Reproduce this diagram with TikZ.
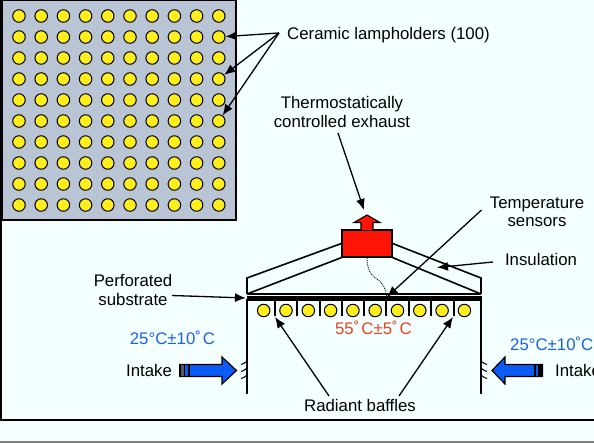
\documentclass[tikz,border=0pt]{standalone}
\usepackage{fontspec}
\setmainfont{Liberation Sans}
\usepackage{xcolor}
\usetikzlibrary{arrows.meta,positioning}
\definecolor{pagecyan}{HTML}{F4FFFF}
\definecolor{panelgray}{HTML}{B9C4D4}
\definecolor{lampyellow}{HTML}{FFEE1E}
\definecolor{hotred}{HTML}{FF1405}
\definecolor{coolblue}{HTML}{0A5CF5}
\definecolor{bluetext}{HTML}{1F5FE0}
\definecolor{redtext}{HTML}{F04020}

\begin{document}
\begin{tikzpicture}[
  x=1pt,y=-1pt,
  lbl/.style={font=\fontsize{16.8}{18.2}\selectfont,align=center,inner sep=0pt},
  lamp/.style={circle,draw=black,line width=1pt,fill=lampyellow,minimum size=12.5pt,inner sep=0pt},
  arrow/.style={-{Latex[length=11pt,width=9pt]},line width=1.3pt},
  wall/.style={line width=1.6pt},
  baffle/.style={line width=1.1pt},
  hatch/.style={line width=1pt},
  intake/.style={draw=black,line width=1.2pt,fill=coolblue}
]
\useasboundingbox (0,0) rectangle (594,443);
\fill[pagecyan] (0,0) rectangle (594,443);
\draw[line width=1.5pt] (1,0) -- (1,420) -- (594,420);
\fill[gray] (0,441) rectangle (594,443);
% lamp panel
\node[draw=black,line width=1.2pt,fill=panelgray,minimum width=234pt,minimum height=220pt,inner sep=0pt] (panel) at (119,110) {};
\foreach \col in {1,...,10}
  \foreach \row in {1,...,10}
    \node[lamp] (lamp-\col-\row) at ({19+22.2*(\col-1)},{16+21*(\row-1)}) {};
\node[lbl,anchor=west] (lampholders) at (287,35) {Ceramic lampholders (100)};
\coordinate (fan) at (279,33);
\draw[arrow] (fan) -- (lamp-10-2);
\draw[arrow] (fan) -- (lamp-10-4);
\draw[arrow] (fan) -- (lamp-10-6);
% hood
\node[draw=black,line width=1.2pt,fill=hotred,minimum width=50pt,minimum height=27pt,inner sep=0pt] (exhaust) at (367,243.5) {};
\draw[fill=hotred,line width=1.1pt] (361,230) -- (361,222.5) -- (354,222.5) -- (367,215) -- (380,222.5) -- (373,222.5) -- (373,230);
\coordinate (hoodL) at (247,278);
\coordinate (hoodR) at (481,278);
\coordinate (subL) at (247,294);
\coordinate (subR) at (481,294);
\draw[wall] (exhaust.west) -- (hoodL) -- (subL);
\draw[wall] (exhaust.east) -- (hoodR) -- (subR);
\draw[wall] (exhaust.south west) -- (subL);
\draw[wall] (exhaust.south east) -- (subR);
\draw[line width=1.1pt] (subL) -- (subR);
\fill (246.5,296.5) rectangle (481.5,301);
\coordinate (sensor) at (387,297);
\draw[wall] (247,299) -- (247,394);
\draw[wall] (481,299) -- (481,394);
\foreach \i in {1,...,10}
  \node[lamp] (bulb-\i) at ({263.7+22.3*(\i-1)},310.5) {};
\foreach \x in {275,297,320,342,364,386,409,431,454}
  \draw[baffle] (\x,301) -- (\x,316);
\draw[densely dotted,line width=.9pt] (367,258) .. controls (368,285) and (383,272) .. (sensor);
% labels
\node[lbl] (thermo) at (342,112) {Thermostatically\\controlled exhaust};
\node[lbl] (sensors) at (537,212) {Temperature\\sensors};
\node[lbl] (insulation) at (541,259.5) {Insulation};
\node[lbl] (substrate) at (133,290) {Perforated\\substrate};
\node[lbl] (baffles) at (360,405.5) {Radiant baffles};
\node[lbl,text=redtext] (hot) at (373.5,327.5) {55˚\hspace{.12em}C±5˚\hspace{.12em}C};
\node[lbl,text=bluetext] (coolL) at (172.5,338) {25°C±10˚\hspace{.12em}C};
\node[lbl,text=bluetext,anchor=west] (coolR) at (510,344) {25°C±10˚C};
\node[lbl] (intakeL) at (149,370) {Intake};
\node[lbl,anchor=west] (intakeR) at (555,370) {Intake};
\coordinate (baffleL) at (275,317);
\coordinate (baffleR) at (453,317);
\coordinate (roof) at (437,267.5);
\coordinate (outlet) at (364,210);
\coordinate (edge) at (246,298);
\draw[arrow] (338,133) -- (outlet);
\draw[arrow] (481.5,210) -- (sensor);
\draw[arrow] (493,262) -- (roof);
\draw[arrow] (172,295.5) -- (edge);
\draw[arrow] (329,396) -- (baffleL);
\draw[arrow] (399,396) -- (baffleR);
% intake arrows
\draw[intake] (180,364.5) -- (222,364.5) -- (222,357) -- (236.5,370.5) -- (222,384) -- (222,376.5) -- (180,376.5) -- cycle;
\draw[intake] (542.5,364.5) -- (505,364.5) -- (505,357) -- (492,370.5) -- (505,384) -- (505,376.5) -- (542.5,376.5) -- cycle;
\fill[black!65] (180,364.5) rectangle (184,376.5);
\draw[line width=1.1pt] (180,364.5) rectangle (189,376.5);
\draw[line width=1.1pt] (184.5,364.5) -- (184.5,376.5);
\fill[black] (534,364.5) rectangle (536,376.5);
\fill[black] (538,364.5) rectangle (542.5,376.5);
\foreach \y in {363,370,377} {
  \draw[hatch] (241,\y+1.5) .. controls (243,\y+1) and (245,\y) .. (247,\y-2);
  \draw[hatch] (487,\y+1.5) .. controls (485,\y+1) and (483,\y) .. (481,\y-2);
}
\end{tikzpicture}
\end{document}
